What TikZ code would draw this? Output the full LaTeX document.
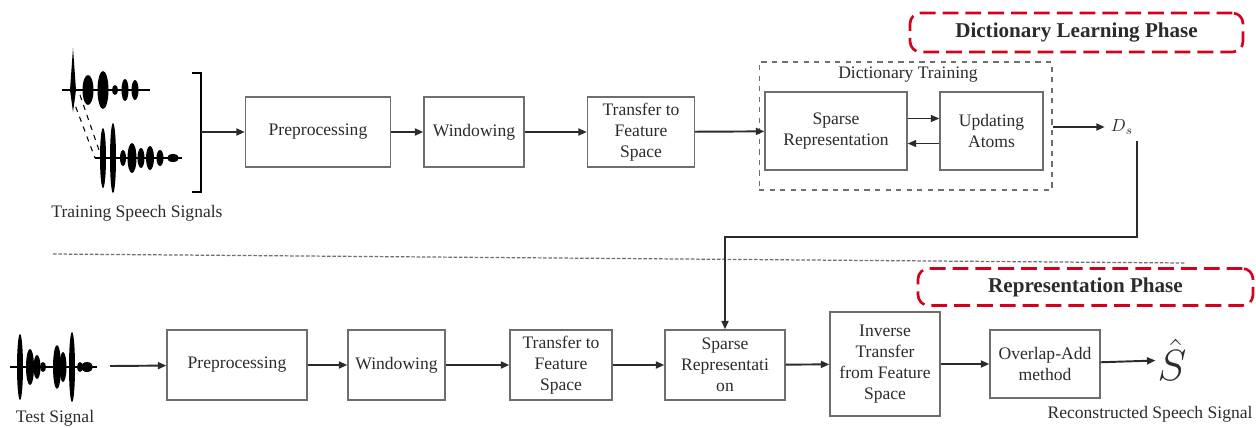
\documentclass[tikz,border=0pt]{standalone}
\usepackage{fontspec}
\setmainfont{LiberationSerif}[Extension=.ttf,UprightFont=*-Regular,BoldFont=*-Bold,ItalicFont=*-Italic,BoldItalicFont=*-BoldItalic]
\usetikzlibrary{arrows.meta,positioning}
\definecolor{ink}{HTML}{2B2B2B}
\definecolor{frame}{HTML}{6E6E6E}
\definecolor{phasered}{HTML}{D6001C}

\begin{document}
\begin{tikzpicture}[x=0.02cm,y=-0.02cm,font=\normalsize,text=ink,box/.style={draw=frame,line width=0.8pt,minimum height=1.4cm,align=center,inner sep=2pt},arrow/.style={-{Triangle[length=1.7mm,width=1.4mm]},line width=1.1pt,ink},phase/.style={draw=phasered,line width=1.5pt,dash pattern=on 9pt off 4pt,rounded corners=6pt,font=\large\bfseries,minimum height=0.78cm},wave/.style={fill=black}]
 \useasboundingbox (0,0) rectangle (1256,427);
 % training signals
 \draw[line width=0.8pt] (62,90) -- (150,90);
 \fill[wave] (73,48) -- (76,90) -- (73,112) -- (70,90) -- cycle;
 \foreach \x/\w/\h in {88/5.5/15,103/5.5/19,115/3/5,125/3.5/11,135/3.5/10} \fill[wave] (\x,90) ellipse [x radius=\w,y radius=\h];
 \draw[line width=0.8pt] (95,158) -- (182,158);
 \foreach \x/\w/\h in {103/3/30,113/3/35,123/3/8,132/4.5/15,141/3.5/10,150/4/12,160/3.5/8,173/6/4} \fill[wave] (\x,158) ellipse [x radius=\w,y radius=\h];
 \draw[dashed,line width=0.6pt] (72,97) -- (95,158) (80,95) -- (100,153);
 \draw[line width=0.9pt] (192,73) -- (201,73) -- (201,192) -- (192,192);
 \coordinate (brk) at (201,132);
 \node (train) at (137,213) {Training Speech Signals};
 % dictionary learning
 \node[box,minimum width=2.9cm] (pre1) at (318,132) {Preprocessing};
 \node[box,minimum width=2cm] (win1) at (474,132) {Windowing};
 \node[box,minimum width=2.14cm] (tfs1) at (641,132) {Transfer to\\Feature\\Space};
 \node[draw=frame,dashed,line width=0.6pt,minimum width=5.86cm,minimum height=2.56cm] (dict) at (905.5,126) {};
 \node (dictlbl) at (908,75) {Dictionary Training};
 \node[box,minimum width=2.84cm,minimum height=1.56cm] (sr1) at (836,131) {Sparse\\Representation};
 \node[box,minimum width=2.06cm,minimum height=1.56cm] (ua) at (991.5,131) {Updating\\Atoms};
 \node (ds) at (1122,127) {$D_s$};
 \draw[arrow] (brk) -- (pre1);
 \draw[arrow] (pre1) -- (win1);
 \draw[arrow] (win1) -- (tfs1);
 \draw[arrow] (tfs1) -- (sr1);
 \draw[arrow,line width=0.7pt] ([yshift=0.25cm]sr1.east) -- ([yshift=0.25cm]ua.west);
 \draw[arrow,line width=0.7pt] ([yshift=-0.25cm]ua.west) -- ([yshift=-0.25cm]sr1.east);
 \draw[arrow] (dict.east |- ds) -- (ds);
 \node[phase,minimum width=6.66cm] (dlp) at (1076.5,32.5) {Dictionary Learning Phase};
 % separator
 \draw[frame,line width=0.7pt,dash pattern=on 2pt off 1pt] (53,254) -- (1185,263);
 \node[phase,minimum width=6.7cm,minimum height=0.74cm] (rp) at (1085.5,287) {Representation Phase};
 % test signal
 \draw[line width=0.8pt] (10,367) -- (97,367);
 \foreach \x/\w/\h in {20/3/33,30/4/18,37/3.5/12,43/3/5,57/4/22,63/3.5/15,72/3/35,80/3/5,87/6/5} \fill[wave] (\x,367) ellipse [x radius=\w,y radius=\h];
 \coordinate (tsig) at (110,366);
 \node (test) at (55,418) {Test Signal};
 % representation
 \node[box,minimum width=2.8cm] (pre2) at (237,365) {Preprocessing};
 \node[box,minimum width=1.94cm] (win2) at (396.5,365) {Windowing};
 \node[box,minimum width=2.04cm] (tfs2) at (561,365) {Transfer to\\Feature\\Space};
 \node[box,minimum width=2.4cm] (sr2) at (725,365) {Sparse\\Representati\\on};
 \node[box,minimum width=2.2cm,minimum height=2.08cm] (inv) at (885,364) {Inverse\\Transfer\\from Feature\\Space};
 \node[box,minimum width=2.2cm,minimum height=1.36cm] (ola) at (1045,364) {Overlap-Add\\method};
 \node[font=\fontsize{30}{30}\selectfont,inner sep=1pt] (shat) at (1172,360) {$\hat{S}$};
 \node (recon) at (1150,414) {Reconstructed Speech Signal};
 \draw[arrow] (tsig) -- (pre2);
 \draw[arrow] (pre2) -- (win2);
 \draw[arrow] (win2) -- (tfs2);
 \draw[arrow] (tfs2) -- (sr2);
 \draw[arrow] (sr2) -- (inv);
 \draw[arrow] (inv) -- (ola);
 \draw[arrow] (ola) -- (shat);
 \coordinate (turn) at (1137,237);
 \draw[arrow] (ds.south -| turn) -- (turn) -- (turn -| sr2) -- (sr2);
\end{tikzpicture}
\end{document}
